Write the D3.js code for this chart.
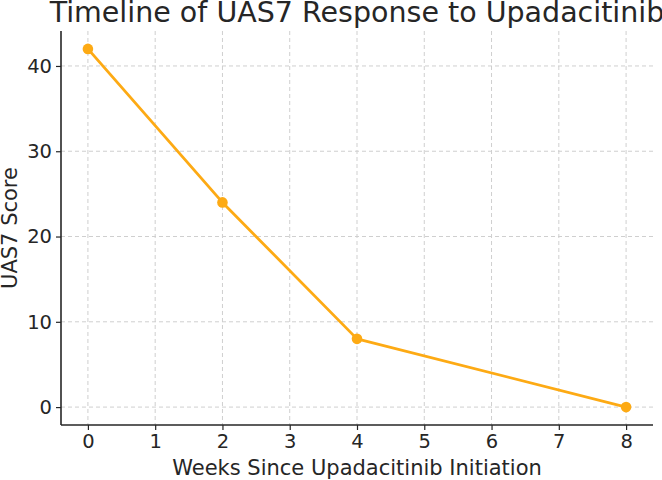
<!DOCTYPE html>
<html><head><meta charset="utf-8">
<script src="https://cdn.jsdelivr.net/npm/d3@7"></script>
<style>body{margin:0;background:#fff}svg{display:block}text{font-family:"DejaVu Sans",sans-serif;fill:#262626}</style>
</head><body>
<svg id="c" width="662" height="480"></svg>
<script>
const weeks = [0, 2, 4, 8];
const uas7 = [42, 24, 8, 0];
const xTicks = [0,1,2,3,4,5,6,7,8];
const yTicks = [0,10,20,30,40];
const title = "Timeline of UAS7 Response to Upadacitinib";
const xLabel = "Weeks Since Upadacitinib Initiation";
const yLabel = "UAS7 Score";
const color = "#fdaa14";

const svg = d3.select("#c");
const L=61, R=653, T=31, B=425;
const x = d3.scaleLinear().domain([-0.4, 8.4]).range([L, R]);
const y = d3.scaleLinear().domain([-2.1, 44.1]).range([B, T]);

const g = svg.append("g");
g.selectAll(".gx").data(xTicks).enter().append("line")
  .attr("x1", d=>x(d)).attr("x2", d=>x(d)).attr("y1", T).attr("y2", B)
  .attr("stroke", "#cfcfcf").attr("stroke-width", 1).attr("stroke-dasharray", "4,3");
g.selectAll(".gy").data(yTicks).enter().append("line")
  .attr("x1", L).attr("x2", R).attr("y1", d=>y(d)).attr("y2", d=>y(d))
  .attr("stroke", "#cfcfcf").attr("stroke-width", 1).attr("stroke-dasharray", "4,3");

const xa = svg.append("g").attr("transform", `translate(0,${B})`)
  .call(d3.axisBottom(x).tickValues(xTicks).tickSize(5).tickPadding(4).tickFormat(d3.format("d")));
const ya = svg.append("g").attr("transform", `translate(${L},0)`)
  .call(d3.axisLeft(y).tickValues(yTicks).tickSize(5).tickPadding(4).tickFormat(d3.format("d")));
[xa, ya].forEach(a => {
  a.select(".domain").remove();
  a.selectAll("line").attr("stroke", "#262626").attr("stroke-width", 1.2);
  a.selectAll("text").style("font-family", '"DejaVu Sans",sans-serif').style("font-size", "19.5px").attr("fill", "#262626");
});
svg.append("line").attr("x1", L).attr("x2", L).attr("y1", T).attr("y2", B).attr("stroke", "#262626").attr("stroke-width", 1.6);
svg.append("line").attr("x1", L).attr("x2", R).attr("y1", B).attr("y2", B).attr("stroke", "#262626").attr("stroke-width", 1.6);

const data = weeks.map((w,i)=>({w, v: uas7[i]}));
svg.append("path").datum(data)
  .attr("d", d3.line().x(d=>x(d.w)).y(d=>y(d.v)))
  .attr("fill", "none").attr("stroke", color).attr("stroke-width", 2.8).attr("stroke-linejoin", "round");
svg.selectAll(".pt").data(data).enter().append("circle")
  .attr("cx", d=>x(d.w)).attr("cy", d=>y(d.v)).attr("r", 5.3).attr("fill", color);

svg.append("text").attr("x", (L+R)/2).attr("y", 22).attr("text-anchor", "middle")
  .style("font-size", "28.5px").text(title);
svg.append("text").attr("x", (L+R)/2).attr("y", 475).attr("text-anchor", "middle")
  .style("font-size", "21px").text(xLabel);
svg.append("text").attr("transform", `translate(17,${(T+B)/2}) rotate(-90)`).attr("text-anchor", "middle")
  .style("font-size", "21px").text(yLabel);
</script>
</body></html>
